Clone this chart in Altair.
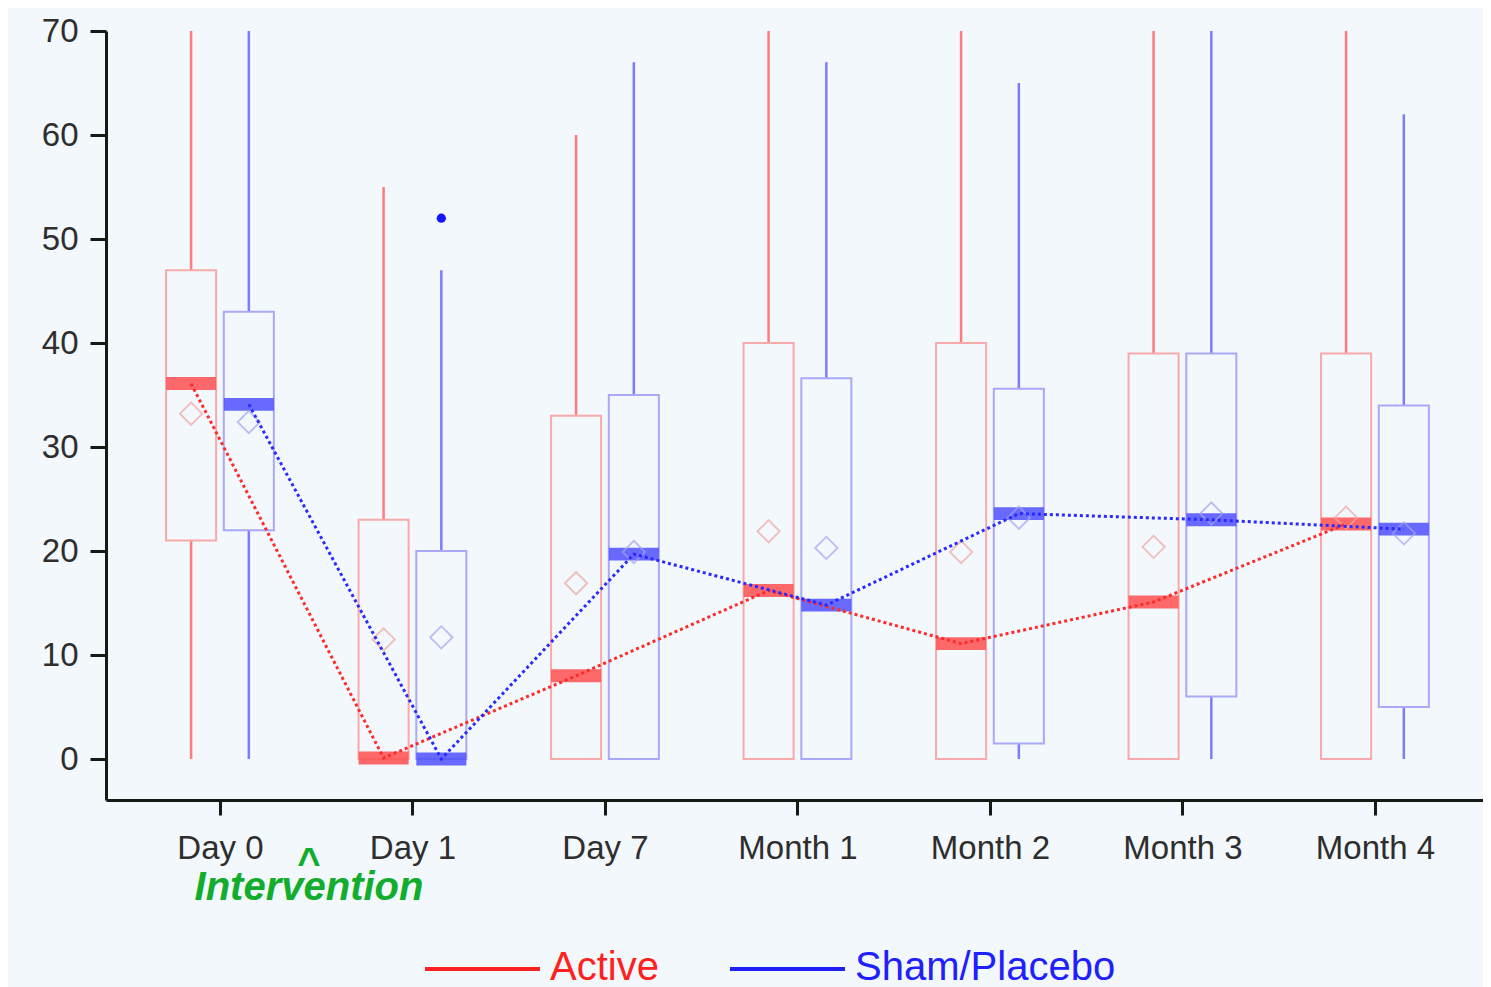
import altair as alt
import pandas as pd

# ---------------- data ----------------
times = ["Day 0", "Day 1", "Day 7", "Month 1", "Month 2", "Month 3", "Month 4"]
groups = ["Active", "Sham/Placebo"]

active_low = [0, 0, 0, 0, 0, 0, 0]
active_q1 = [21, 0, 0, 0, 0, 0, 0]
active_median = [36.1, 0.1, 8.0, 16.2, 11.1, 15.1, 22.6]
active_q3 = [47, 23, 33, 40, 40, 39, 39]
active_high = [70, 55, 60, 70, 70, 70, 70]
active_mean = [33.2, 11.5, 16.9, 21.9, 19.9, 20.4, 23.2]

sham_low = [0, 0, 0, 0, 0, 0, 0]
sham_q1 = [22, 0, 0, 0, 1.5, 6, 5]
sham_median = [34.1, 0.0, 19.7, 14.8, 23.6, 23.0, 22.1]
sham_q3 = [43, 20, 35, 36.6, 35.6, 39, 34]
sham_high = [70, 47, 67, 67, 65, 70, 62]
sham_mean = [32.4, 11.7, 19.9, 20.3, 23.2, 23.6, 21.7]

outlier_group = ["Sham/Placebo"]
outlier_time = ["Day 1"]
outlier_value = [52]

y_ticks = [0, 10, 20, 30, 40, 50, 60, 70]

# ---------------- styling ----------------
BG = "#f2f8fb"
AXIS_COLOR = "#151a15"
LABEL_COLOR = "#2e2e2e"
FONT = "Liberation Sans"
GROUP_OFFSET = {"Active": -0.15, "Sham/Placebo": 0.15}
HALF_BOX = 0.13
MEDIAN_HALF = 0.62
PAL = {
    "Active": dict(whisker="#ff7c7c", box="#f8a9a9", med="#ff5050", mean="#f4a3a3", line="#ff2a2a"),
    "Sham/Placebo": dict(whisker="#7c7cff", box="#a9a9f8", med="#5050ff", mean="#a3a3f4", line="#2a2aff"),
}

# ---------------- table built from the arrays ----------------
rows = []
for g, lo, q1, md, q3, hi, mn in [
    ("Active", active_low, active_q1, active_median, active_q3, active_high, active_mean),
    ("Sham/Placebo", sham_low, sham_q1, sham_median, sham_q3, sham_high, sham_mean),
]:
    for i, t in enumerate(times):
        rows.append(dict(group=g, time=t, idx=i, low=lo[i], q1=q1[i], median=md[i],
                         q3=q3[i], high=hi[i], mean=mn[i]))
df = pd.DataFrame(rows)
df_out = pd.DataFrame({"group": outlier_group, "time": outlier_time, "value": outlier_value})
df_out["idx"] = [times.index(t) for t in outlier_time]

label_expr = "[" + ",".join("'" + t + "'" for t in times) + "][datum.value]"

PLOT_W, PLOT_H = 1377, 769
STEP = 192.5
X0 = -0.592
x_scale = alt.Scale(domain=[X0, X0 + PLOT_W / STEP], nice=False, zero=False)
y_scale = alt.Scale(domain=[-3.94, 70], nice=False, zero=False)
x_axis = alt.Axis(values=list(range(len(times))), labelExpr=label_expr, title=None, grid=False,
                  domainColor=AXIS_COLOR, domainWidth=3, tickColor=AXIS_COLOR, tickWidth=3,
                  tickSize=15, labelFont=FONT, labelFontSize=33, labelColor=LABEL_COLOR,
                  labelPadding=17)
y_axis = alt.Axis(values=y_ticks, title=None, grid=False,
                  domainColor=AXIS_COLOR, domainWidth=3, tickColor=AXIS_COLOR, tickWidth=3,
                  tickSize=16, labelFont=FONT, labelFontSize=33, labelColor=LABEL_COLOR,
                  labelPadding=12)


def X(field):
    return alt.X(field, type="quantitative", scale=x_scale, axis=x_axis)


def Y(field):
    return alt.Y(field, type="quantitative", scale=y_scale, axis=y_axis)


def base(g):
    return alt.Chart(df).transform_filter(alt.datum.group == g).transform_calculate(
        xc=alt.datum.idx + GROUP_OFFSET[g],
    ).transform_calculate(
        xl=alt.datum.xc - HALF_BOX,
        xr=alt.datum.xc + HALF_BOX,
        mlo=alt.datum.median - MEDIAN_HALF,
        mhi=alt.datum.median + MEDIAN_HALF,
    )


whiskers, boxes, medians, means, lines = [], [], [], [], []
for g in groups:
    p = PAL[g]
    whiskers.append(base(g).mark_rule(color=p["whisker"], strokeWidth=2.5).encode(
        x=X("xc"), y=Y("low"), y2="high:Q"))
    boxes.append(base(g).mark_rect(fill=BG, stroke=p["box"], strokeWidth=2).encode(
        x=X("xl"), x2="xr:Q", y=Y("q1"), y2="q3:Q"))
    medians.append(base(g).mark_rect(color=p["med"], opacity=0.85).encode(
        x=X("xl"), x2="xr:Q", y=Y("mlo"), y2="mhi:Q"))
    means.append(base(g).mark_point(shape="diamond", size=500, filled=False,
                                    color=p["mean"], strokeWidth=1.8).encode(
        x=X("xc"), y=Y("mean")))
    lines.append(base(g).mark_line(color=p["line"], strokeWidth=3, strokeDash=[3, 3],
                                   interpolate="linear").encode(
        x=X("xc"), y=Y("median"), order="idx:Q"))

outliers = alt.Chart(df_out).transform_calculate(
    xc=alt.datum.idx + GROUP_OFFSET["Sham/Placebo"]
).mark_point(filled=True, color="#1414ff", size=85, opacity=1).encode(x=X("xc"), y=Y("value"))

# annotation + legend (pixel positions relative to plot area)
GREEN = "#12ad2c"
caret = alt.Chart(pd.DataFrame({"t": ["^"]})).mark_text(
    font=FONT, fontSize=40, fontWeight="bold", color=GREEN, align="center", baseline="alphabetic"
).encode(text="t:N", x=alt.value(203), y=alt.value(845))
interv = alt.Chart(pd.DataFrame({"t": ["Intervention"]})).mark_text(
    font=FONT, fontSize=40, fontWeight="bold", fontStyle="italic", color=GREEN,
    align="center", baseline="alphabetic"
).encode(text="t:N", x=alt.value(203), y=alt.value(869))

legend_layers = []
for g, x0, col in [("Active", 319, "#ff2020"), ("Sham/Placebo", 624, "#2020ff")]:
    legend_layers.append(alt.Chart(pd.DataFrame({"t": [g]})).mark_rule(
        color=col, strokeWidth=4).encode(x=alt.value(x0), x2=alt.value(x0 + 115), y=alt.value(938)))
    legend_layers.append(alt.Chart(pd.DataFrame({"t": [g]})).mark_text(
        font=FONT, fontSize=40, color=col, align="left", baseline="alphabetic"
    ).encode(text="t:N", x=alt.value(x0 + 125), y=alt.value(949)))

chart = alt.layer(
    *whiskers, *boxes, *medians, *means, *lines, outliers, caret, interv, *legend_layers
).properties(
    width=PLOT_W, height=PLOT_H,
    padding={"left": 98, "top": 23, "right": 0, "bottom": 187},
    autosize=alt.AutoSizeParams(type="none"),
    background=BG,
).configure_view(stroke=None)

chart.save("out.html", embed_options={"renderer": "svg", "actions": False})
